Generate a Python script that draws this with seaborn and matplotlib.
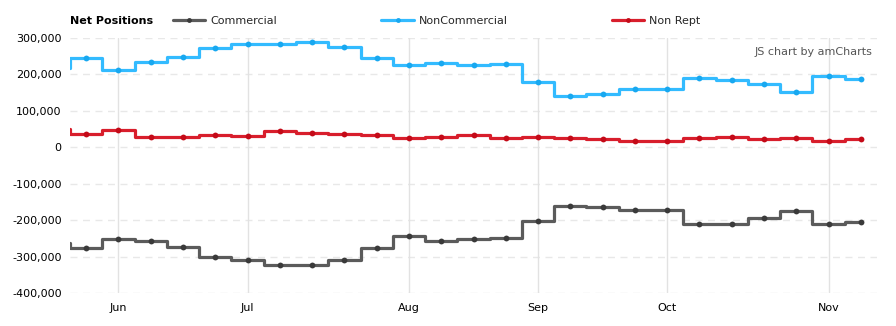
import matplotlib
matplotlib.use("Agg")
import matplotlib.pyplot as plt
from matplotlib.lines import Line2D
from matplotlib.ticker import FuncFormatter
import seaborn as sns
import pandas as pd
import numpy as np

# Weekly report dates (first one is only partly visible at the left edge)
dates = pd.date_range("2019-05-21", periods=26, freq="7D")

commercial = [-264000, -276000, -251000, -256000, -273000, -300000, -309000, -322000,
              -322000, -309000, -276000, -244000, -256000, -251000, -248000, -201000,
              -160000, -163000, -171000, -171000, -210000, -210000, -193000, -174000,
              -210000, -204000]
noncommercial = [218000, 246000, 213000, 235000, 249000, 273000, 283000, 284000,
                 290000, 276000, 246000, 225000, 232000, 225000, 228000, 178000,
                 142000, 147000, 160000, 160000, 191000, 186000, 175000, 153000,
                 197000, 187000]
nonrept = [49000, 37000, 47000, 29000, 29000, 35000, 32000, 44000, 40000, 37000,
           35000, 26000, 29000, 35000, 26000, 29000, 26000, 24000, 18000, 18000,
           26000, 29000, 24000, 26000, 18000, 24000]

series_names = ["Commercial", "NonCommercial", "Non Rept"]
colors = ["#5b5b5b", "#33bbff", "#d81e2c"]
marker_colors = ["#3a3a3a", "#18a8f0", "#c40a18"]
y_ticks = [300000, 200000, 100000, 0, -100000, -200000, -300000, -400000]

# equal spacing per data point (category axis); index 0 = first fully shown week
idx = np.arange(len(dates)) - 1
df = pd.concat([
    pd.DataFrame({"x": idx, "value": commercial, "series": "Commercial"}),
    pd.DataFrame({"x": idx, "value": noncommercial, "series": "NonCommercial"}),
    pd.DataFrame({"x": idx, "value": nonrept, "series": "Non Rept"}),
])

sns.set_theme(style="white")
plt.rcParams["font.family"] = ["DejaVu Sans"]

fig = plt.figure(figsize=(8.96, 3.26), dpi=100)
W, H = 896, 326
ax = fig.add_axes([70 / W, 1 - 293 / H, (877 - 70) / W, (293 - 38) / H])

sns.lineplot(data=df, x="x", y="value", hue="series", hue_order=series_names,
             palette=dict(zip(series_names, colors)), drawstyle="steps-mid",
             marker="o", markersize=4.2, markeredgewidth=0, linewidth=2.3,
             legend=False, ax=ax, estimator=None, sort=False)
for ln, mc in zip(ax.get_lines(), marker_colors):
    ln.set_markerfacecolor(mc)
    ln.set_markeredgecolor(mc)

ax.set_xlim(-0.5, len(dates) - 1.5)
ax.set_ylim(-400000, 300000)

# month ticks at first data point of each month
tick_pos, tick_lab = [], []
prev_month = None
for i, d in zip(idx, dates):
    if i >= 0 and prev_month is not None and d.month != prev_month:
        tick_pos.append(i)
        tick_lab.append(d.strftime("%b"))
    prev_month = d.month
ax.set_xticks(tick_pos)
ax.set_xticklabels(tick_lab)
ax.set_yticks(y_ticks)
ax.yaxis.set_major_formatter(FuncFormatter(lambda v, p: f"{int(v):,}"))

for s in ax.spines.values():
    s.set_visible(False)
ax.tick_params(axis="both", length=0, labelsize=8, colors="#000000")
ax.tick_params(axis="y", pad=6)
ax.tick_params(axis="x", pad=7)
ax.set_xlabel("")
ax.set_ylabel("")

for y in y_ticks:
    ax.axhline(y, color="#e8e8e8", lw=1, ls=(0, (5, 4)), zorder=0)
for x in tick_pos:
    ax.axvline(x, color="#e2e2e2", lw=1, zorder=0)

# legend
fig.text(70 / W, 1 - 21 / H, "Net Positions", fontsize=8, fontweight="bold",
         ha="left", va="center", color="#000000")
handles = [Line2D([0], [0], color=c, lw=2.3, marker="o", markersize=3.5,
                  markeredgewidth=0, markerfacecolor=mc)
           for c, mc in zip(colors, marker_colors)]
fig.legend(handles, series_names, loc="center left",
           bbox_to_anchor=(173 / W, 1 - 21 / H), bbox_transform=fig.transFigure,
           ncol=3, frameon=False, fontsize=8, handlelength=2.9,
           handletextpad=0.45, columnspacing=9.4, borderpad=0, borderaxespad=0)

fig.text(872 / W, 1 - 52 / H, "JS chart by amCharts", fontsize=8,
         ha="right", va="center", color="#555555")

fig.savefig("out.png", dpi=100)
